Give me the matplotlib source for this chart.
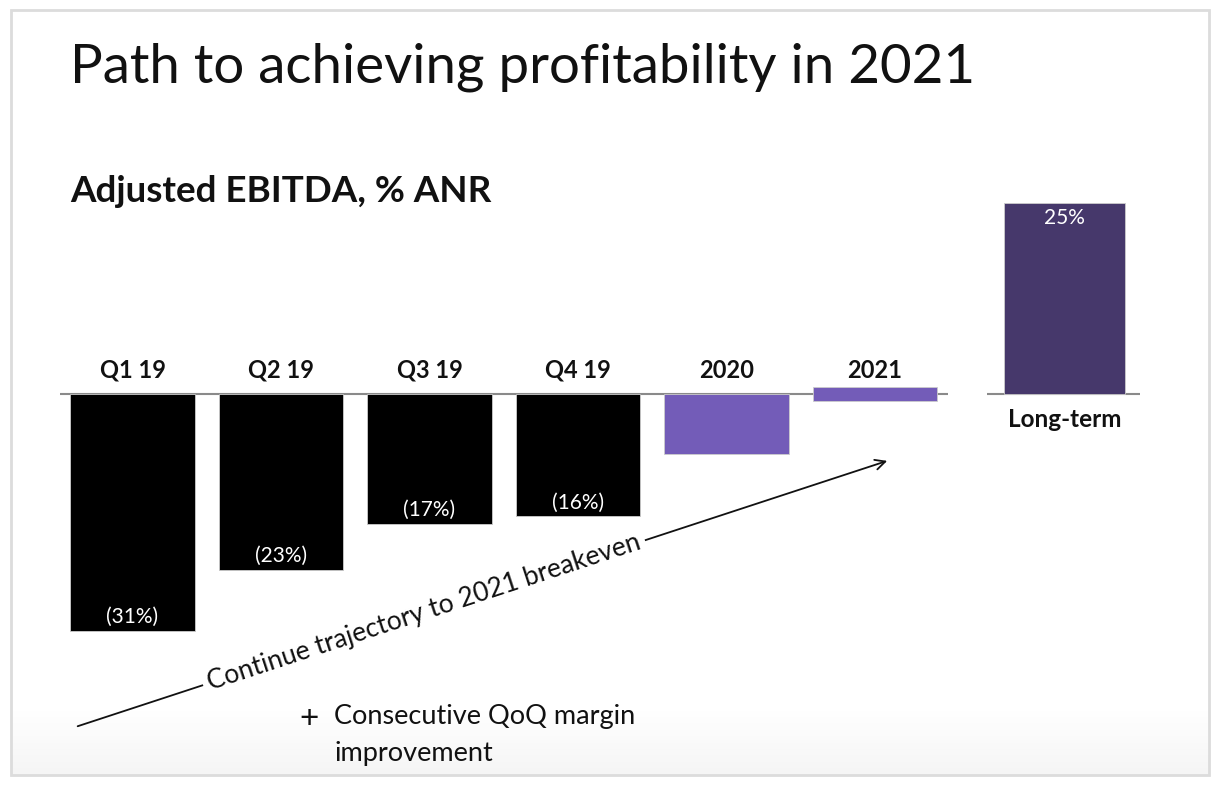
import numpy as np
import matplotlib
matplotlib.use("Agg")
import matplotlib.pyplot as plt
from matplotlib.colors import LinearSegmentedColormap
from matplotlib.patches import Rectangle

plt.rcParams['font.family'] = ['Lato', 'DejaVu Sans']

# data (Adjusted EBITDA, % ANR)
categories = ["Q1 19", "Q2 19", "Q3 19", "Q4 19", "2020", "2021"]
bar_bottom = [-31, -23, -17, -16, -7.9, -0.9]
bar_top = [0, 0, 0, 0, 0, 0.9]
value_labels = ["(31%)", "(23%)", "(17%)", "(16%)", "", ""]
bar_colors = ["#000000", "#000000", "#000000", "#000000", "#735cb8", "#735cb8"]

lt_label = "Long-term"
lt_value = 25
lt_text = "25%"
lt_color = "#46386b"

W, H = 1221, 789
fig = plt.figure(figsize=(W / 100, H / 100), dpi=100)
fig.patch.set_facecolor("white")

# soft gradient at the bottom of the slide
gax = fig.add_axes([11 / W, 1 - 775 / H, 1198 / W, 65 / H], zorder=0)
grad = np.linspace(0, 1, 64).reshape(-1, 1)
gax.imshow(grad, aspect="auto", origin="lower", extent=[0, 1, 0, 1],
           cmap=LinearSegmentedColormap.from_list("g", ["#f5f5f5", "#ffffff"]))
gax.axis("off")

# main axes: 148.5 px per category step, 7.64 px per percentage point
ax = fig.add_axes([0, 0, 1, 1], zorder=1)
ax.patch.set_alpha(0)
step, ppp = 148.5, 7.64
x0px, base_px = 132.5, 394
ax.set_xlim(-x0px / step, (W - x0px) / step)
ax.set_ylim((base_px - H) / ppp, base_px / ppp)
ax.axis("off")

x = np.arange(len(categories))
bw = 0.84
heights = np.array(bar_top) - np.array(bar_bottom)
ax.bar(x, heights, bottom=bar_bottom, width=bw, color=bar_colors,
       edgecolor="#cccccc", linewidth=0.6, zorder=3)

lt_x = (1064.5 - x0px) / step
ax.bar([lt_x], [lt_value], width=0.82, color=lt_color, edgecolor="#cccccc",
       linewidth=0.6, zorder=3)

# baselines
ax.hlines(0, -0.49, 5.49, color="#8a8a8a", lw=1.5, zorder=2)
ax.hlines(0, lt_x - 0.52, lt_x + 0.51, color="#8a8a8a", lw=1.5, zorder=2)

# category labels
for xi, c in zip(x, categories):
    ax.text(xi, 1.6, c, ha="center", va="bottom", fontsize=17,
            fontweight="bold", color="#111111")
ax.text(lt_x, -1.8, lt_label, ha="center", va="top", fontsize=17.5,
        fontweight="bold", color="#111111")

# value labels inside bars
for xi, b, t in zip(x, bar_bottom, value_labels):
    if t:
        ax.text(xi, b + 1.8, t, ha="center", va="center", fontsize=15,
                color="white")
ax.text(lt_x, lt_value - 1.9, lt_text, ha="center", va="center",
        fontsize=15, color="white")

# trajectory arrow
p0 = (-0.387, -43.6)
p1 = (5.10, -8.64)
ax.annotate("", xy=p1, xytext=p0,
            arrowprops=dict(arrowstyle="->", color="#111111", lw=1.3,
                            mutation_scale=18), zorder=4)
ang = np.degrees(np.arctan2((p1[1] - p0[1]) * ppp, (p1[0] - p0[0]) * step))
tx = (424 - x0px) / step
ty = p0[1] + (p1[1] - p0[1]) * (tx - p0[0]) / (p1[0] - p0[0])
ax.text(tx, ty, "Continue trajectory to 2021 breakeven", rotation=ang,
        rotation_mode="anchor", ha="center", va="center", fontsize=19,
        color="#111111", zorder=5,
        bbox=dict(boxstyle="square,pad=0.2", fc="white", ec="none"))

# titles
fig.text(70 / W, 1 - 82 / H, "Path to achieving profitability in 2021",
         fontsize=39.3, color="#111111", ha="left", va="baseline")
fig.text(70 / W, 1 - 202 / H, "Adjusted EBITDA, % ANR", fontsize=26.5,
         fontweight="bold", color="#111111", ha="left", va="baseline")

# bullet note
fig.text(299 / W, 1 - 728 / H, "+", fontsize=24, color="#111111",
         ha="left", va="baseline")
fig.text(334 / W, 1 - 704 / H, "Consecutive QoQ margin\nimprovement",
         fontsize=19.5, color="#111111", ha="left", va="top",
         linespacing=1.6)

# slide border
fig.patches.append(Rectangle((11 / W, 1 - 775 / H), 1198 / W, 765 / H,
                             transform=fig.transFigure, fill=False,
                             edgecolor="#dcdcdc", lw=2, zorder=10))

fig.savefig("out.png", dpi=100)
